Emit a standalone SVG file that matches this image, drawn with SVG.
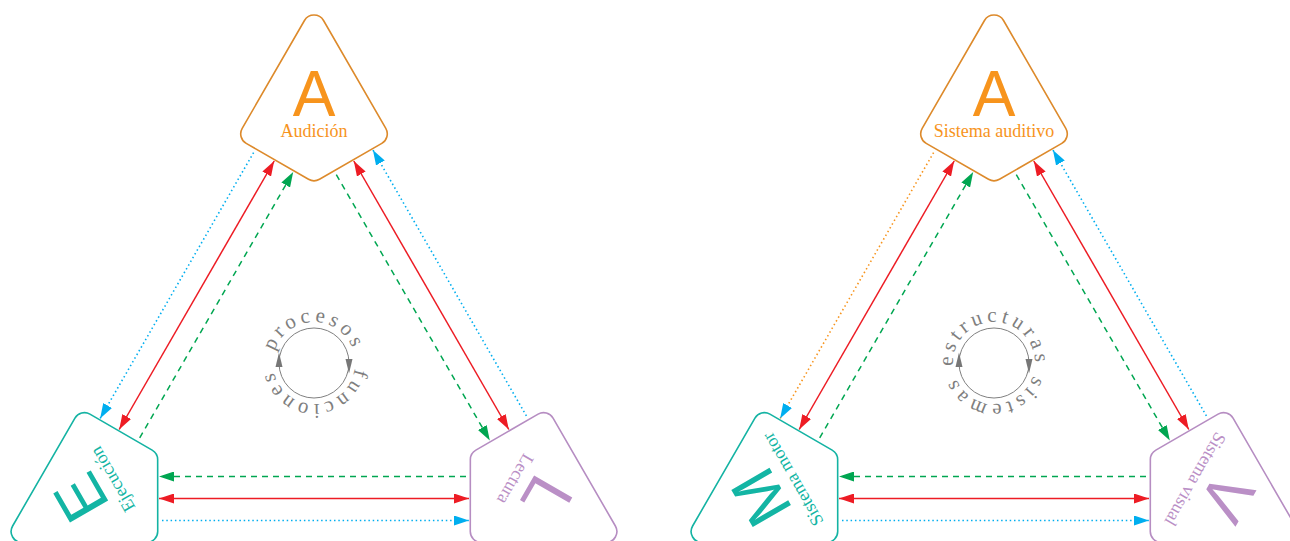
<svg xmlns="http://www.w3.org/2000/svg" xmlns:xlink="http://www.w3.org/1999/xlink" width="1290" height="541" viewBox="0 0 1290 541">
<style>
.k{fill:#fff;stroke-width:1.6}
.ko{stroke:#DD8A2B}.kt{stroke:#14B3A3}.kp{stroke:#B68DC2}
.big{font-family:"Liberation Sans",Arial,sans-serif;font-size:64px;text-anchor:middle}
.lbl{font-family:"Liberation Serif","Times New Roman",serif;font-size:18px;text-anchor:middle}
.o{fill:#F7941D}.t{fill:#13B5A4}.p{fill:#BA8FC6}
.red{stroke:#ED1C24;stroke-width:1.5;fill:none}
.grn{stroke:#00A651;stroke-width:1.5;stroke-dasharray:6 5;fill:none}
.blu{stroke:#00AEEF;stroke-width:1.6;stroke-dasharray:1.5 2.8;fill:none}
.org{stroke:#F7941D;stroke-width:1.6;stroke-dasharray:1.5 2.8;fill:none}
.ring{fill:none;stroke:#808080;stroke-width:1}
.ra{fill:#777}
.arc{font-family:"Liberation Serif","Times New Roman",serif;font-size:21px;fill:#7f7f7f;letter-spacing:4px;text-anchor:middle}
</style>
<defs>
<path id="kite" d="M9.53,-342.5 L71.8,-234.6 A11,11 0 0 1 67.8,-219.6 L5.5,-183.7 A11,11 0 0 1 -5.5,-183.7 L-67.8,-219.6 A11,11 0 0 1 -71.8,-234.6 L-9.53,-342.5 A11,11 0 0 1 9.53,-342.5 Z"/>
<marker id="mr" markerUnits="userSpaceOnUse" viewBox="0 0 15 10" markerWidth="15" markerHeight="10" refX="15" refY="5" orient="auto-start-reverse"><path d="M0,0 L15,5 L0,10 Z" fill="#ED1C24"/></marker>
<marker id="mg" markerUnits="userSpaceOnUse" viewBox="0 0 15 10" markerWidth="15" markerHeight="10" refX="15" refY="5" orient="auto"><path d="M0,0 L15,5 L0,10 Z" fill="#00A651"/></marker>
<marker id="mb" markerUnits="userSpaceOnUse" viewBox="0 0 15 10" markerWidth="15" markerHeight="10" refX="15" refY="5" orient="auto"><path d="M0,0 L15,5 L0,10 Z" fill="#00AEEF"/></marker>
<path id="ring1" d="M273,363 A41,41 0 1 1 355,363 A41,41 0 1 1 273,363"/>
<path id="ring2" d="M953,363 A41,41 0 1 1 1035,363 A41,41 0 1 1 953,363"/>
</defs>

<g id="connectors">
<path class="red" d="M274.2,161 L119.2,429.5" marker-start="url(#mr)" marker-end="url(#mr)"/>
<path class="grn" d="M139.7,437.9 L293.2,172" marker-end="url(#mg)"/>
<path class="blu" d="M253.6,152.6 L100.1,418.5" marker-end="url(#mb)"/>
<path class="red" d="M353.8,161 L508.8,429.5" marker-start="url(#mr)" marker-end="url(#mr)"/>
<path class="grn" d="M336.3,174.6 L489.8,440.5" marker-end="url(#mg)"/>
<path class="blu" d="M526.4,415.9 L372.9,150" marker-end="url(#mb)"/>
<path class="red" d="M159,498.5 L469,498.5" marker-start="url(#mr)" marker-end="url(#mr)"/>
<path class="grn" d="M466,476.5 L159,476.5" marker-end="url(#mg)"/>
<path class="blu" d="M162,520.5 L469,520.5" marker-end="url(#mb)"/>

<path class="red" d="M954.2,161 L799.2,429.5" marker-start="url(#mr)" marker-end="url(#mr)"/>
<path class="grn" d="M819.7,437.9 L973.2,172" marker-end="url(#mg)"/>
<path class="org" d="M933.6,152.6 L780.1,418.5" marker-end="url(#mb)"/>
<path class="red" d="M1033.8,161 L1188.8,429.5" marker-start="url(#mr)" marker-end="url(#mr)"/>
<path class="grn" d="M1016.3,174.6 L1169.8,440.5" marker-end="url(#mg)"/>
<path class="blu" d="M1206.4,415.9 L1052.9,150" marker-end="url(#mb)"/>
<path class="red" d="M839,498.5 L1149,498.5" marker-start="url(#mr)" marker-end="url(#mr)"/>
<path class="grn" d="M1146,476.5 L839,476.5" marker-end="url(#mg)"/>
<path class="blu" d="M842,520.5 L1149,520.5" marker-end="url(#mb)"/>
</g>

<g id="audicion" transform="translate(314,363)">
<use xlink:href="#kite" class="k ko"/>
<text class="big o" x="0" y="-247">A</text>
<text class="lbl o" x="0" y="-226.5">Audición</text>
</g>
<g id="ejecucion" transform="translate(314,363) rotate(-120)">
<use xlink:href="#kite" class="k kt"/>
<text class="big t" x="0" y="-247">E</text>
<text class="lbl t" x="0" y="-226.5">Ejecución</text>
</g>
<g id="lectura" transform="translate(314,363) rotate(120)">
<use xlink:href="#kite" class="k kp"/>
<text class="big p" x="0" y="-247">L</text>
<text class="lbl p" x="0" y="-226.5">Lectura</text>
</g>

<g id="procesos-funciones">
<circle class="ring" cx="314" cy="363" r="35"/>
<polygon class="ra" points="279,352.5 275.5,367 282.5,367"/>
<polygon class="ra" points="349,373.5 345.5,359 352.5,359"/>
<text class="arc"><textPath xlink:href="#ring1" startOffset="25%">procesos</textPath></text>
<text class="arc"><textPath xlink:href="#ring1" startOffset="75%">funciones</textPath></text>
</g>

<g id="sistema-auditivo" transform="translate(994,363)">
<use xlink:href="#kite" class="k ko"/>
<text class="big o" x="0" y="-247">A</text>
<text class="lbl o" x="0" y="-226.5">Sistema auditivo</text>
</g>
<g id="sistema-motor" transform="translate(994,363) rotate(-120)">
<use xlink:href="#kite" class="k kt"/>
<text class="big t" x="0" y="-247">M</text>
<text class="lbl t" x="0" y="-226.5">Sistema motor</text>
</g>
<g id="sistema-visual" transform="translate(994,363) rotate(120)">
<use xlink:href="#kite" class="k kp"/>
<text class="big p" x="0" y="-247">V</text>
<text class="lbl p" x="0" y="-226.5">Sistema visual</text>
</g>

<g id="estructuras-sistemas">
<circle class="ring" cx="994" cy="363" r="35"/>
<polygon class="ra" points="959,352.5 955.5,367 962.5,367"/>
<polygon class="ra" points="1029,373.5 1025.5,359 1032.5,359"/>
<text class="arc"><textPath xlink:href="#ring2" startOffset="25%">estructuras</textPath></text>
<text class="arc"><textPath xlink:href="#ring2" startOffset="75%">sistemas</textPath></text>
</g>
</svg>
